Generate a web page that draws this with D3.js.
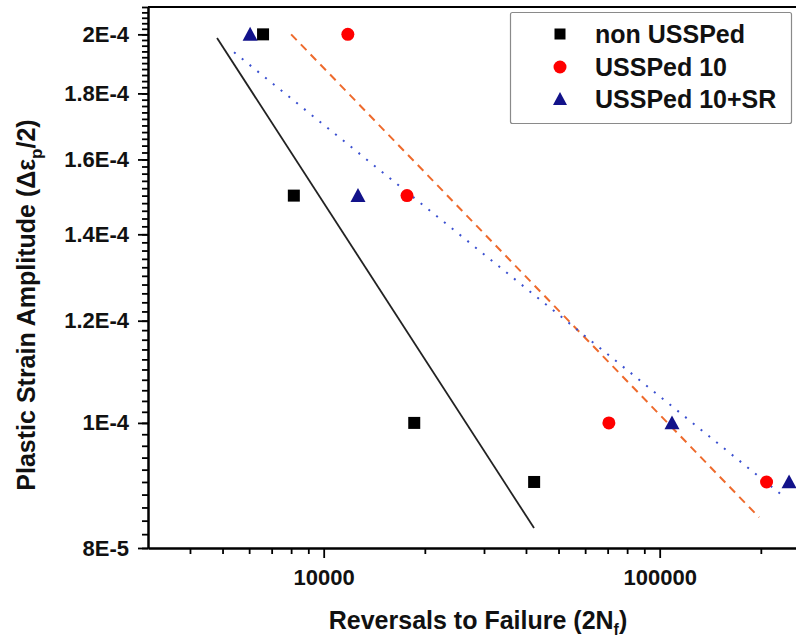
<!DOCTYPE html>
<html>
<head>
<meta charset="utf-8">
<script src="https://cdn.jsdelivr.net/npm/d3@7"></script>
<style>
  body { margin: 0; background: #fff; }
  text { font-family: "Liberation Sans", Arial, sans-serif; font-weight: bold; }
</style>
</head>
<body>
<div class="chart"></div>
<script>
let w = 796;
let h = 639;

// data
const seriesNames = ["non USSPed", "USSPed 10", "USSPed 10+SR"];
const nonX = [6600, 8150, 18600, 42300];
const nonY = [2.0e-4, 1.5e-4, 1.0e-4, 9.0e-5];
const u10X = [11800, 17700, 70600, 208000];
const u10Y = [2.0e-4, 1.5e-4, 1.0e-4, 9.0e-5];
const srX = [6040, 12650, 108800, 242700];
const srY = [2.0e-4, 1.5e-4, 1.0e-4, 9.0e-5];

// fitted lines (end points)
const nonFitX = [4815, 42270];
const nonFitY = [1.987e-4, 8.29e-5];
const u10FitX = [8000, 197600];
const u10FitY = [2.0e-4, 8.45e-5];
const srFitX = [5410, 237600];
const srFitY = [1.937e-4, 8.74e-5];

// ticks
const xMajor = [10000, 100000];
const xLabels = ["10000", "100000"];
const xMinor = [4000, 5000, 6000, 7000, 8000, 9000, 20000, 30000, 40000, 50000, 60000, 70000, 80000, 90000, 200000];
const yMajor = [8e-5, 1e-4, 1.2e-4, 1.4e-4, 1.6e-4, 1.8e-4, 2e-4];
const yLabels = ["8E-5", "1E-4", "1.2E-4", "1.4E-4", "1.6E-4", "1.8E-4", "2E-4"];
const yMinor = d3.range(80, 211, 2).map(v => v * 1e-6);

const padL = 148, padR = 820, padT = 7, padB = 548;

const svg = d3.select(".chart").append("svg")
  .attr("width", w).attr("height", h)
  .style("display", "block");

svg.append("rect").attr("width", w).attr("height", h).attr("fill", "#fff");

const xScale = d3.scaleLog().domain([3000, 300000]).range([padL, padR]);
const yScale = d3.scaleLog().domain([8e-5, 2.1e-4]).range([padB, padT]);

// frame top
svg.append("line")
  .attr("x1", padL).attr("x2", padR).attr("y1", padT).attr("y2", padT)
  .attr("stroke", "#000").attr("stroke-width", 2);

// x axis
svg.append("g").attr("transform", "translate(0," + padB + ")")
  .call(d3.axisBottom(xScale).tickValues(xMinor).tickSize(6).tickSizeOuter(0).tickFormat(""));
const gx = svg.append("g").attr("transform", "translate(0," + padB + ")")
  .call(d3.axisBottom(xScale).tickValues(xMajor).tickSize(10).tickSizeOuter(0).tickPadding(11)
    .tickFormat((d, i) => xLabels[i]));

// y axis
svg.append("g").attr("transform", "translate(" + padL + ",0)")
  .call(d3.axisLeft(yScale).tickValues(yMinor).tickSize(6).tickSizeOuter(0).tickFormat(""));
const gy = svg.append("g").attr("transform", "translate(" + padL + ",0)")
  .call(d3.axisLeft(yScale).tickValues(yMajor).tickSize(10).tickSizeOuter(0).tickPadding(9)
    .tickFormat((d, i) => yLabels[i]));

svg.selectAll(".domain").attr("stroke", "#000").attr("stroke-width", 2);
svg.selectAll(".tick line").attr("stroke", "#000").attr("stroke-width", 1.8);
[gx, gy].forEach(g => g.selectAll("text")
  .attr("font-size", 22).attr("fill", "#111")
  .style("font-family", "Liberation Sans, Arial, sans-serif")
  .style("font-weight", "bold"));

// axis titles
const xt = svg.append("text")
  .attr("x", (328 + 628) / 2).attr("y", 629)
  .attr("text-anchor", "middle").attr("font-size", 25).attr("fill", "#111");
xt.append("tspan").text("Reversals to Failure (2N");
xt.append("tspan").attr("font-size", 16).attr("dy", 6).text("f");
xt.append("tspan").attr("dy", -6).text(")");

const yt = svg.append("text")
  .attr("transform", "translate(35," + 305 + ") rotate(-90)")
  .attr("text-anchor", "middle").attr("font-size", 25).attr("fill", "#111");
yt.append("tspan").text("Plastic Strain Amplitude (\u0394\u03b5");
yt.append("tspan").attr("font-size", 17).attr("dy", 7).text("p");
yt.append("tspan").attr("dy", -7).text("/2)");

// fit lines
const line = d3.line().x(d => xScale(d[0])).y(d => yScale(d[1]));
const plot = svg.append("g");

plot.append("path").datum(d3.zip(nonFitX, nonFitY))
  .attr("d", line).attr("fill", "none").attr("stroke", "#222").attr("stroke-width", 1.8);
plot.append("path").datum(d3.zip(u10FitX, u10FitY))
  .attr("d", line).attr("fill", "none").attr("stroke", "#ee6a2c").attr("stroke-width", 2)
  .attr("stroke-dasharray", "8,6");
plot.append("path").datum(d3.zip(srFitX, srFitY))
  .attr("d", line).attr("fill", "none").attr("stroke", "#3a4fd0").attr("stroke-width", 2)
  .attr("stroke-dasharray", "2,8");

// markers
const sq = 12, cr = 6.5, tri = 15;
const triPath = s => "M0," + (-s * 0.5) + "L" + (s / 2) + "," + (s * 0.42) + "L" + (-s / 2) + "," + (s * 0.42) + "Z";

plot.selectAll(".sq").data(d3.zip(nonX, nonY)).enter().append("rect")
  .attr("x", d => xScale(d[0]) - sq / 2).attr("y", d => yScale(d[1]) - sq / 2)
  .attr("width", sq).attr("height", sq).attr("fill", "#000");

plot.selectAll(".ci").data(d3.zip(u10X, u10Y)).enter().append("circle")
  .attr("cx", d => xScale(d[0])).attr("cy", d => yScale(d[1]))
  .attr("r", cr).attr("fill", "#ff0000");

plot.selectAll(".tr").data(d3.zip(srX, srY)).enter().append("path")
  .attr("transform", d => "translate(" + xScale(d[0]) + "," + yScale(d[1]) + ")")
  .attr("d", triPath(tri)).attr("fill", "#12128a");

// legend
const lg = svg.append("g");
lg.append("rect").attr("x", 510.5).attr("y", 12.5).attr("width", 281).attr("height", 111)
  .attr("fill", "#fff").attr("stroke", "#8a8a8a").attr("stroke-width", 1.2).attr("rx", 2);

const rowY = [34, 67, 99];
lg.append("rect").attr("x", 560 - 5.5).attr("y", rowY[0] - 5.5).attr("width", 11).attr("height", 11).attr("fill", "#000");
lg.append("circle").attr("cx", 560).attr("cy", rowY[1]).attr("r", 6.5).attr("fill", "#ff0000");
lg.append("path").attr("transform", "translate(560," + rowY[2] + ")").attr("d", triPath(14)).attr("fill", "#12128a");

lg.selectAll(".lt").data(seriesNames).enter().append("text")
  .attr("x", 595).attr("y", (d, i) => rowY[i] + 9)
  .attr("font-size", 25).attr("fill", "#111")
  .text(d => d);
</script>
</body>
</html>
